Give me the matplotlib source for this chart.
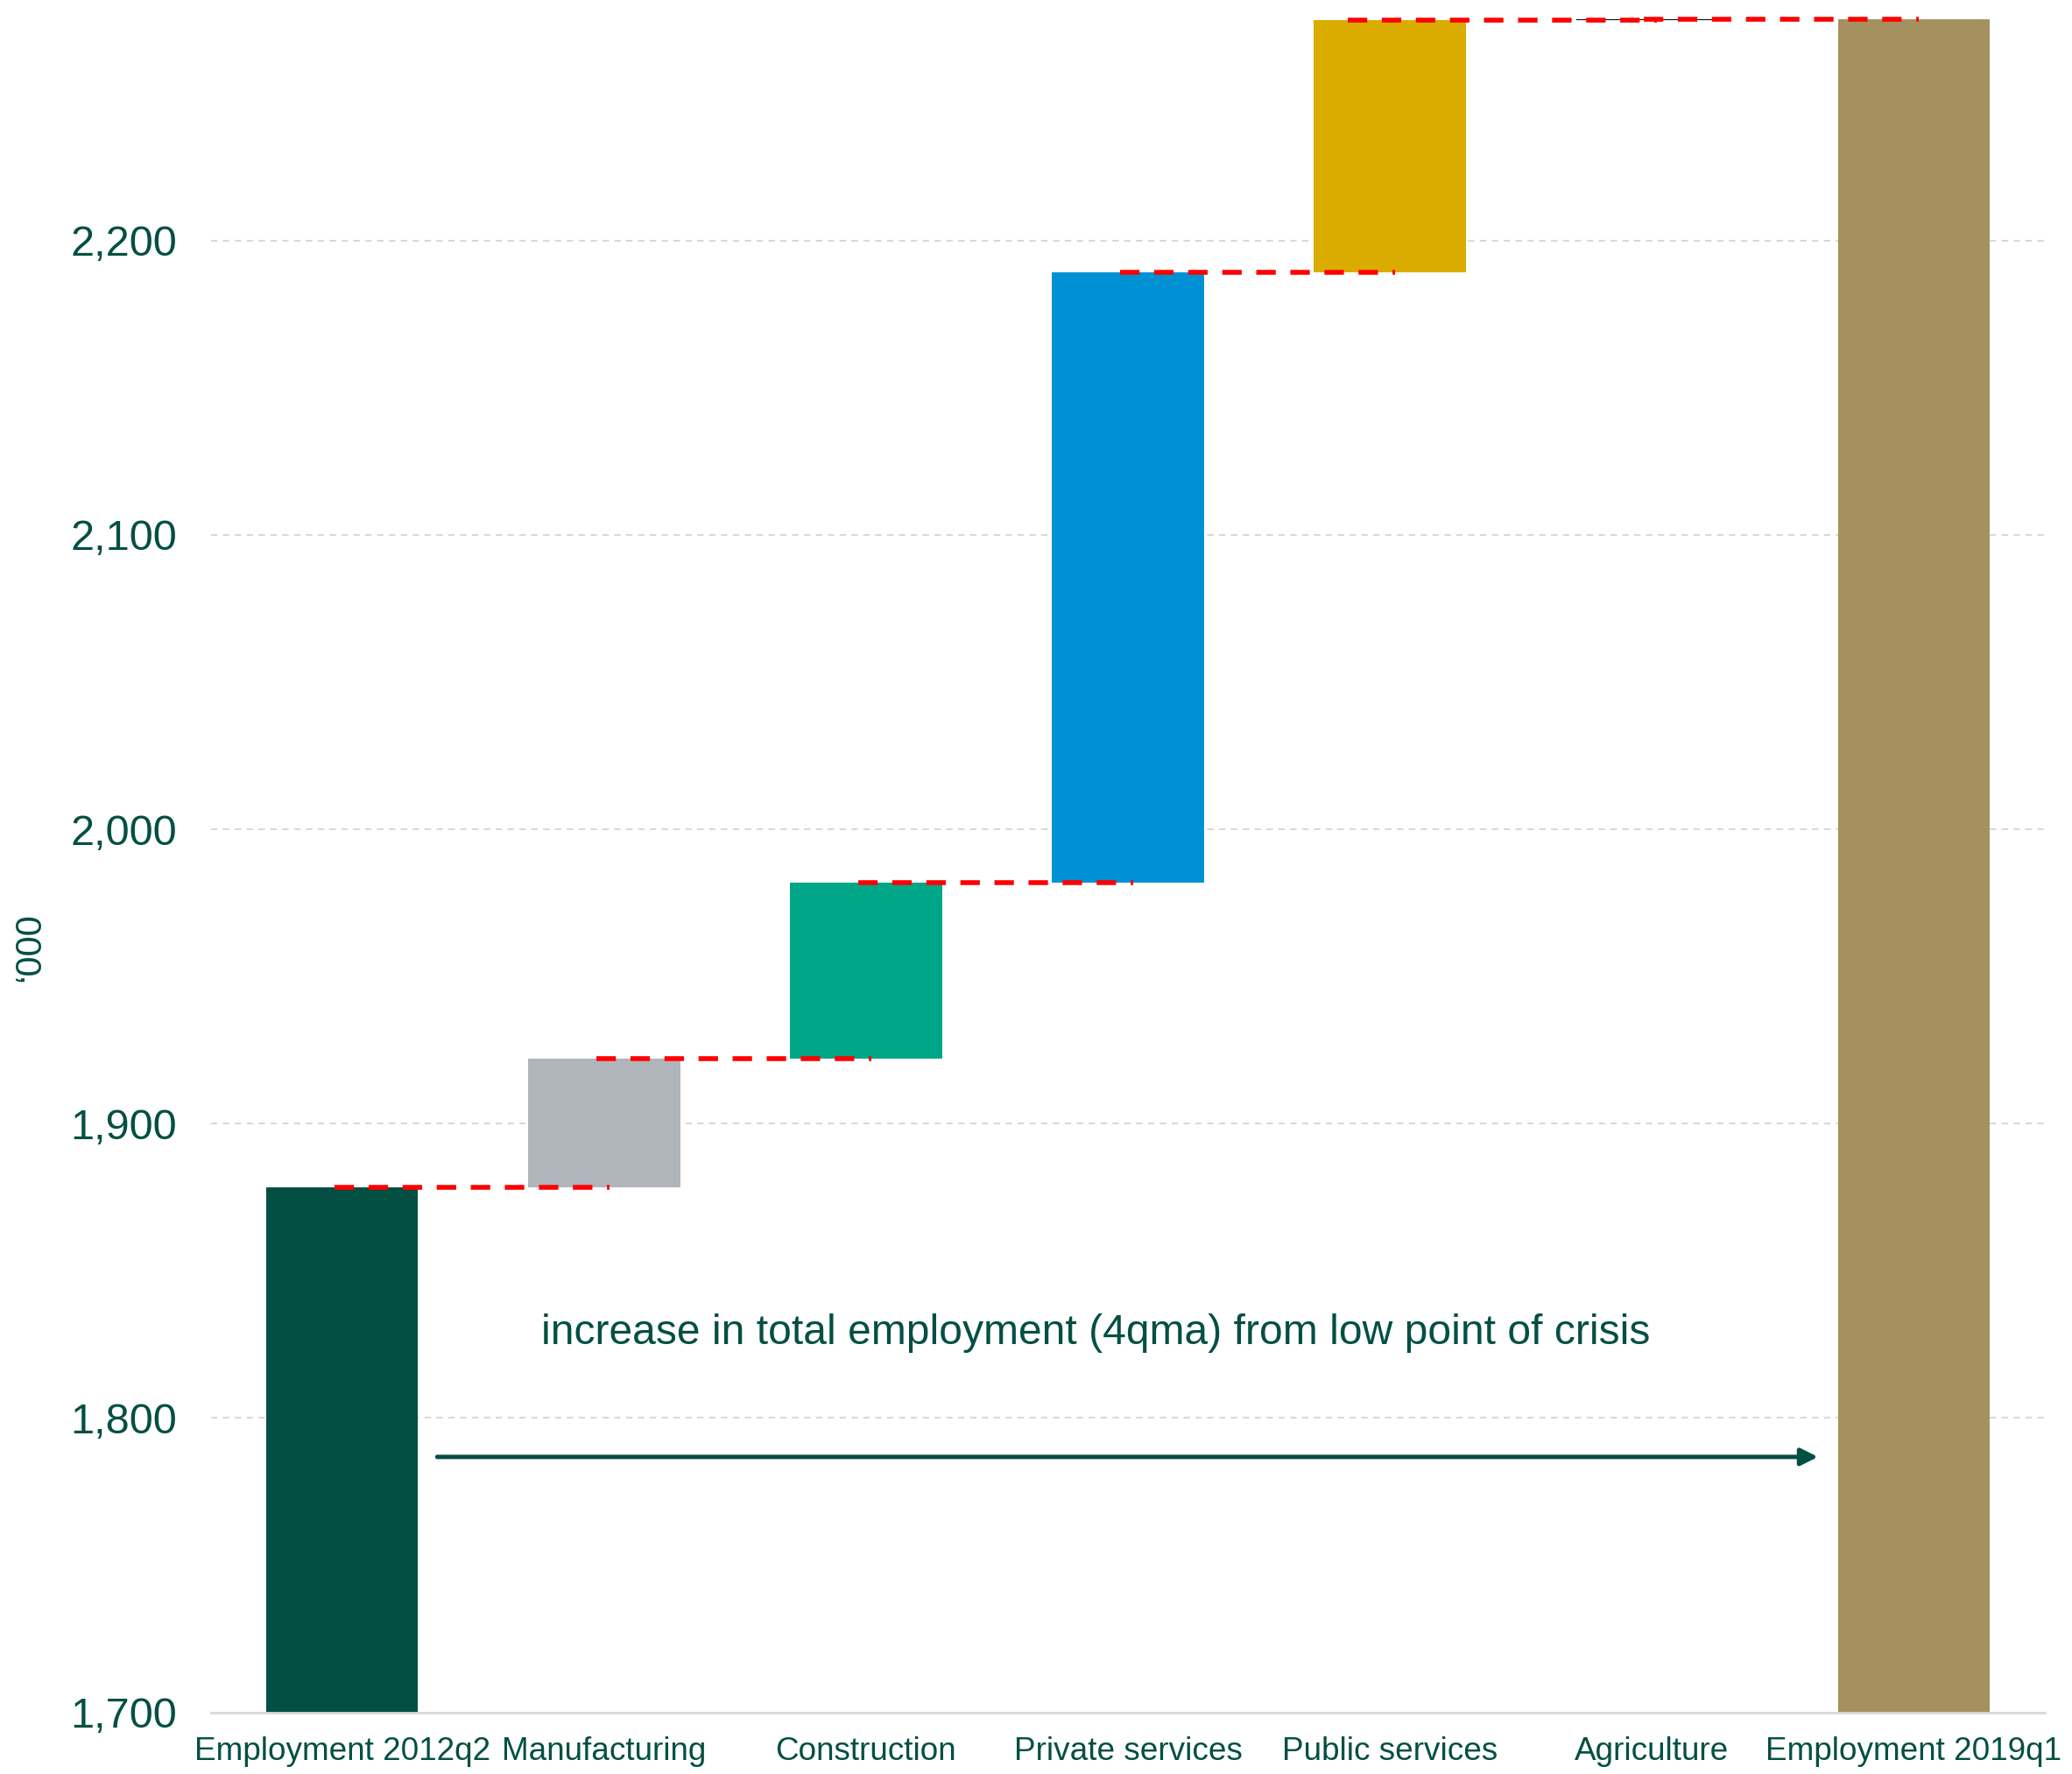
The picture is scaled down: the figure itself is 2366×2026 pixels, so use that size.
import matplotlib
matplotlib.use("Agg")
import matplotlib.pyplot as plt
from matplotlib.ticker import FuncFormatter

plt.rcParams['font.family'] = ['Liberation Sans', 'DejaVu Sans']

# Waterfall: employment level, sector contributions, employment level ('000)
categories = ["Employment 2012q2", "Manufacturing", "Construction",
              "Private services", "Public services", "Agriculture",
              "Employment 2019q1"]
values = [1878.4, 43.8, 59.8, 207.2, 85.7, 0.3, 2275.2]
is_total = [True, False, False, False, False, False, True]
colors = ["#034f44", "#b0b5bc", "#00a688", "#0091d5", "#daac00", "#000000",
          "#a5915f"]

yticks = [1700, 1800, 1900, 2000, 2100, 2200]
note = "increase in total employment (4qma) from low point of crisis"

GREEN = "#034f44"


def main():
    fig = plt.figure(figsize=(11.83, 10.13), dpi=200)
    ax = fig.add_axes([0.1019, 0.0347, 0.885, 0.9653])

    bottoms = []
    heights = []
    level = 0.0
    for v, tot in zip(values, is_total):
        if tot:
            bottoms.append(0.0)
            heights.append(v)
            level = v
        else:
            bottoms.append(level)
            heights.append(v)
            level += v

    x = list(range(len(categories)))
    ax.bar(x, heights, bottom=bottoms, width=0.58, color=colors,
           zorder=2)

    # red dashed connectors between consecutive bars
    tops = [b + h for b, h in zip(bottoms, heights)]
    for i in range(len(categories) - 1):
        x0 = i - 0.16 if i == 4 else i - 0.03
        ax.plot([x0, i + 1.02], [tops[i], tops[i]], color="#ff0000",
                lw=2.0, ls=(0, (4, 3)), zorder=3, solid_capstyle="butt")

    # arrow + note
    ax.annotate("", xy=(5.634, 1786.8), xytext=(0.363, 1786.8),
                arrowprops=dict(arrowstyle="-|>,head_length=0.58,head_width=0.29",
                                color=GREEN, lw=1.8, shrinkA=0, shrinkB=0,
                                mutation_scale=10))
    ax.text(2.876, 1825.0, note, ha="center", va="baseline", color=GREEN,
            fontsize=17.3)

    ax.set_xlim(-0.5, 6.5)
    ax.set_ylim(1700, 2281.7)
    ax.set_yticks(yticks)
    ax.yaxis.set_major_formatter(FuncFormatter(lambda v, p: f"{v:,.0f}"))
    ax.set_xticks(x)
    ax.set_xticklabels(categories)
    ax.tick_params(axis="y", length=0, pad=14, labelsize=17.5,
                   labelcolor=GREEN)
    ax.tick_params(axis="x", length=0, pad=10, labelsize=13.3,
                   labelcolor=GREEN)

    ax.yaxis.grid(True, color="#d9d9d9", lw=0.75, ls=(0, (3.5, 3)))
    ax.set_axisbelow(True)
    for side in ("top", "right", "left"):
        ax.spines[side].set_visible(False)
    ax.spines["bottom"].set_color("#d9d9d9")
    ax.spines["bottom"].set_linewidth(1.0)

    fig.text(34 / 2366, 0.466, "\u2018000", rotation=90, ha="center",
             va="center", color=GREEN, fontsize=15)

    fig.savefig("out.png", dpi=200)


if __name__ == '__main__':
    main()
